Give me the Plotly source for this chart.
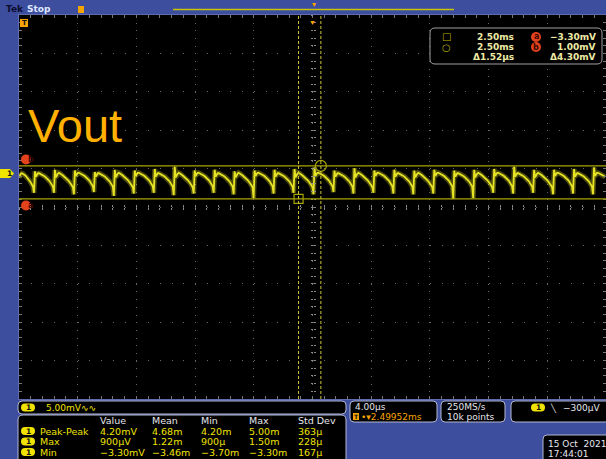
import plotly.graph_objects as go

# ---------------- canvas / plot geometry ----------------
W, H = 606, 459
ML, MR, MT, MB = 19, 0, 15, 60
PW, PH = W - ML - MR, H - MT - MB

# ---------------- scope settings ----------------
time_per_div_us = 4.0
mv_per_div = 5.0
divs_x = 10
divs_y = 10
ch1_position_div = 0.87          # ground marker above screen centre

cursor_time_us = [-0.95, 0.57]   # square cursor, circle cursor
cursor_level_mv = [-3.30, 1.00]  # cursor a, cursor b

# Channel 1 ripple, one value per screen column (mV)
ripple_mv = [
    -0.5, -0.2, 0.0, 0.05, 0.0, -0.1, -0.2, -0.35, -0.5, -0.65, -0.8, -1.0, -1.2, -1.45, -1.7, -2.5,
    0.3, -0.4, -0.1, 0.05, 0.05, 0.0, -0.05, -0.1, -0.2, -0.3, -0.4, -0.5, -0.6, -0.75, -0.9, -1.05, -1.25, -1.45, -1.7, -2.5,
    0.5, -0.5, -0.2, 0.0, 0.1, 0.05, -0.05, -0.15, -0.25, -0.35, -0.45, -0.55, -0.7, -0.85, -1.0, -1.15, -1.35, -1.55, -1.8, -2.7,
    0.4, -0.3, -0.1, 0.1, 0.1, 0.05, 0.0, -0.1, -0.15, -0.25, -0.35, -0.45, -0.55, -0.7, -0.85, -1.0, -1.2, -1.4, -1.65, -2.4,
    0.2, -0.4, -0.1, 0.05, 0.05, 0.0, -0.05, -0.1, -0.2, -0.3, -0.4, -0.5, -0.6, -0.75, -0.9, -1.05, -1.25, -1.45, -1.7, -2.9,
    0.5, -0.5, -0.2, 0.0, 0.1, 0.05, -0.05, -0.15, -0.25, -0.35, -0.45, -0.55, -0.7, -0.85, -1.0, -1.15, -1.35, -1.55, -1.8, -2.6,
    0.4, -0.3, -0.1, 0.1, 0.1, 0.05, 0.0, -0.1, -0.15, -0.25, -0.35, -0.45, -0.55, -0.7, -0.85, -1.0, -1.2, -1.4, -1.65, -2.5,
    0.6, -0.4, -0.1, 0.05, 0.05, 0.0, -0.05, -0.1, -0.2, -0.3, -0.4, -0.5, -0.6, -0.75, -0.9, -1.05, -1.25, -1.45, -1.7, -2.8,
    0.9, -0.5, -0.2, 0.0, 0.1, 0.05, -0.05, -0.15, -0.25, -0.35, -0.45, -0.55, -0.7, -0.85, -1.0, -1.15, -1.35, -1.55, -1.8, -2.6,
    0.4, -0.3, -0.1, 0.1, 0.1, 0.05, 0.0, -0.1, -0.15, -0.25, -0.35, -0.45, -0.55, -0.7, -0.85, -1.0, -1.2, -1.4, -1.65, -2.5,
    0.5, -0.4, -0.1, 0.05, 0.05, 0.0, -0.05, -0.1, -0.2, -0.3, -0.4, -0.5, -0.6, -0.75, -0.9, -1.05, -1.25, -1.45, -1.7, -2.7,
    0.3, -0.5, -0.2, 0.0, 0.1, 0.05, -0.05, -0.15, -0.25, -0.35, -0.45, -0.55, -0.7, -0.85, -1.0, -1.15, -1.35, -1.55, -1.8, -3.2,
    0.4, -0.3, -0.1, 0.1, 0.1, 0.05, 0.0, -0.1, -0.15, -0.25, -0.35, -0.45, -0.55, -0.7, -0.85, -1.0, -1.2, -1.4, -1.65, -2.6,
    0.5, -0.4, -0.1, 0.05, 0.05, 0.0, -0.05, -0.1, -0.2, -0.3, -0.4, -0.5, -0.6, -0.75, -0.9, -1.05, -1.25, -1.45, -1.7, -2.5,
    0.6, -0.5, -0.2, 0.0, 0.1, 0.05, -0.05, -0.15, -0.25, -0.35, -0.45, -0.55, -0.7, -0.85, -1.0, -1.15, -1.35, -1.55, -1.8, -2.7,
    0.8, -0.3, -0.1, 0.1, 0.1, 0.05, 0.0, -0.1, -0.15, -0.25, -0.35, -0.45, -0.55, -0.7, -0.85, -1.0, -1.2, -1.4, -1.65, -2.4,
    0.4, -0.4, -0.1, 0.05, 0.05, 0.0, -0.05, -0.1, -0.2, -0.3, -0.4, -0.5, -0.6, -0.75, -0.9, -1.05, -1.25, -1.45, -1.7, -2.6,
    0.7, -0.5, -0.2, 0.0, 0.1, 0.05, -0.05, -0.15, -0.25, -0.35, -0.45, -0.55, -0.7, -0.85, -1.0, -1.15, -1.35, -1.55, -1.8, -2.5,
    0.4, -0.3, -0.1, 0.1, 0.1, 0.05, 0.0, -0.1, -0.15, -0.25, -0.35, -0.45, -0.55, -0.7, -0.85, -1.0, -1.2, -1.4, -1.65, -2.6,
    0.5, -0.4, -0.1, 0.05, 0.05, 0.0, -0.05, -0.1, -0.2, -0.3, -0.4, -0.5, -0.6, -0.75, -0.9, -1.05, -1.25, -1.45, -1.7, -2.7,
    0.4, -0.5, -0.2, 0.0, 0.1, 0.05, -0.05, -0.15, -0.25, -0.35, -0.45, -0.55, -0.7, -0.85, -1.0, -1.15, -1.35, -1.55, -1.8, -2.6,
    0.5, -0.3, -0.1, 0.1, 0.1, 0.05, 0.0, -0.1, -0.15, -0.25, -0.35, -0.45, -0.55, -0.7, -0.85, -1.0, -1.2, -1.4, -1.65, -3.3,
    0.4, -0.4, -0.1, 0.05, 0.05, 0.0, -0.05, -0.1, -0.2, -0.3, -0.4, -0.5, -0.6, -0.75, -0.9, -1.05, -1.25, -1.45, -1.7, -3.2,
    0.5, -0.5, -0.2, 0.0, 0.1, 0.05, -0.05, -0.15, -0.25, -0.35, -0.45, -0.55, -0.7, -0.85, -1.0, -1.15, -1.35, -1.55, -1.8, -2.5,
    0.6, -0.3, -0.1, 0.1, 0.1, 0.05, 0.0, -0.1, -0.15, -0.25, -0.35, -0.45, -0.55, -0.7, -0.85, -1.0, -1.2, -1.4, -1.65, -2.6,
    0.9, -0.4, -0.1, 0.05, 0.05, 0.0, -0.05, -0.1, -0.2, -0.3, -0.4, -0.5, -0.6, -0.75, -0.9, -1.05, -1.25, -1.45, -1.7, -2.5,
    0.5, -0.5, -0.2, 0.0, 0.1, 0.05, -0.05, -0.15, -0.25, -0.35, -0.45, -0.55, -0.7, -0.85, -1.0, -1.15, -1.35, -1.55, -1.8, -2.7,
    0.5, -0.3, -0.1, 0.1, 0.1, 0.05, 0.0, -0.1, -0.15, -0.25, -0.35, -0.45, -0.55, -0.7, -0.85, -1.0, -1.2, -1.4, -1.65, -2.6,
    0.6, -0.4, -0.1, 0.05, 0.05, 0.0, -0.05, -0.1, -0.2, -0.3, -0.4, -0.5, -0.6, -0.75, -0.9, -1.05, -1.25, -1.45, -1.7, -2.7,
    0.8, -0.3, -0.1, 0.1, 0.1, 0.05, 0.0, -0.1, -0.15, -0.25, -0.35, -0.45,
]

# ---------------- on-screen readouts ----------------
meas_rows = ["Peak-Peak", "Max", "Min"]
meas_cols = ["Value", "Mean", "Min", "Max", "Std Dev"]
meas_vals = [
    ["4.20mV", "4.68m", "4.20m", "5.00m", "363µ"],
    ["900µV", "1.22m", "900µ", "1.50m", "228µ"],
    ["−3.30mV", "−3.46m", "−3.70m", "−3.30m", "167µ"],
]
cursor_time_txt = ["2.50ms", "2.50ms"]
cursor_level_txt = ["−3.30mV", "1.00mV"]
cursor_delta_txt = ["Δ1.52µs", "Δ4.30mV"]
ch1_scale_txt = "5.00mV∿∿"
horiz_txt = ["4.00µs", "2.49952ms"]
acq_txt = ["250MS/s", "10k points"]
trig_txt = "−300µV"
date_txt = ["15 Oct  2021", "17:44:01"]

# ---------------- colours ----------------
BLUE = "#3d4e9e"
TRACE = "#e6e424"
CURS_H = "#a9a500"
CURS_V = "#cfc83a"
YEL = "#f0e300"
CREAM = "#eeeaa6"
WHITE = "#e6e6ee"
ORANGE = "#f7a400"
RED = "#e2421c"
BOXLINE = "#b3b7d2"
GRID = "#666666"
FONT = "DejaVu Sans"

half_t = time_per_div_us * divs_x / 2
y_center = -ch1_position_div * mv_per_div
y_half = mv_per_div * divs_y / 2
dx = 2 * half_t / len(ripple_mv)


def X(px):
    return (px - ML) / PW


def Y(py):
    return (H - MB - py) / PH


def rrect(x0, y0, x1, y1, r):
    return (f"M{X(x0 + r)},{Y(y0)} L{X(x1 - r)},{Y(y0)} Q{X(x1)},{Y(y0)} {X(x1)},{Y(y0 + r)} "
            f"L{X(x1)},{Y(y1 - r)} Q{X(x1)},{Y(y1)} {X(x1 - r)},{Y(y1)} L{X(x0 + r)},{Y(y1)} "
            f"Q{X(x0)},{Y(y1)} {X(x0)},{Y(y1 - r)} L{X(x0)},{Y(y0 + r)} Q{X(x0)},{Y(y0)} {X(x0 + r)},{Y(y0)} Z")


fig = go.Figure()

# trace glow + core
fig.add_trace(go.Scatter(y=ripple_mv, x0=-half_t, dx=dx, mode="lines",
                         line=dict(color="rgba(230,228,36,0.33)", width=5), hoverinfo="skip"))
fig.add_trace(go.Scatter(y=ripple_mv, x0=-half_t, dx=dx, mode="lines",
                         line=dict(color=TRACE, width=1.8), hoverinfo="skip"))

# cursors
for lv in cursor_level_mv:
    fig.add_hline(y=lv, line=dict(color=CURS_H, width=1.3))
for t in cursor_time_us:
    fig.add_vline(x=t, line=dict(color=CURS_V, width=1, dash="3px,2px"))
fig.add_trace(go.Scatter(x=[cursor_time_us[0]], y=[cursor_level_mv[0]], mode="markers",
                         marker=dict(symbol="square-open", size=9, color=CURS_H, line=dict(width=1.2)),
                         hoverinfo="skip"))
fig.add_trace(go.Scatter(x=[cursor_time_us[1]], y=[cursor_level_mv[1]], mode="markers",
                         marker=dict(symbol="circle-open", size=11, color=CURS_H, line=dict(width=1.2)),
                         hoverinfo="skip"))

# empty traces to host the centre crosshair tick axes
fig.add_trace(go.Scatter(x=[], y=[], xaxis="x2", yaxis="y2", hoverinfo="skip"))
fig.add_trace(go.Scatter(x=[], y=[], xaxis="x3", yaxis="y3", hoverinfo="skip"))

minor_x = time_per_div_us / 5
minor_y = mv_per_div / 5
ax_common = dict(showticklabels=False, zeroline=False, fixedrange=True)

fig.update_layout(
    width=W, height=H, margin=dict(l=ML, r=MR, t=MT, b=MB),
    paper_bgcolor=BLUE, plot_bgcolor="black", showlegend=False, hovermode=False,
    xaxis=dict(range=[-half_t, half_t], tick0=0, dtick=time_per_div_us, showgrid=True,
               gridcolor=GRID, griddash="1px,6.68px", gridwidth=1,
               ticks="inside", ticklen=3, tickcolor="#777", mirror="allticks",
               showline=True, linecolor="#5f6db0", linewidth=1,
               minor=dict(dtick=minor_x, tick0=0, ticks="inside", ticklen=3, tickcolor="#777", showgrid=False),
               **ax_common),
    yaxis=dict(range=[y_center - y_half, y_center + y_half], tick0=y_center, dtick=mv_per_div,
               showgrid=True, gridcolor=GRID, griddash="1px,10.74px", gridwidth=1,
               ticks="inside", ticklen=3, tickcolor="#777", mirror="allticks",
               showline=True, linecolor="#5f6db0", linewidth=1,
               minor=dict(dtick=minor_y, tick0=y_center, ticks="inside", ticklen=3, tickcolor="#777", showgrid=False),
               **ax_common),
    xaxis2=dict(overlaying="x", anchor="free", position=0.5, range=[-half_t, half_t], tick0=0,
                dtick=minor_x, ticks="outside", ticklen=2, tickcolor="#8a8a8a", showgrid=False,
                showline=False, **ax_common),
    xaxis3=dict(overlaying="x", anchor="free", position=0.5, range=[-half_t, half_t], tick0=0,
                dtick=minor_x, ticks="inside", ticklen=2, tickcolor="#8a8a8a", showgrid=False,
                showline=False, **ax_common),
    yaxis2=dict(overlaying="y", anchor="free", position=0.5, range=[y_center - y_half, y_center + y_half],
                tick0=y_center, dtick=minor_y, ticks="outside", ticklen=2, tickcolor="#8a8a8a",
                showgrid=False, showline=False, **ax_common),
    yaxis3=dict(overlaying="y", anchor="free", position=0.5, range=[y_center - y_half, y_center + y_half],
                tick0=y_center, dtick=minor_y, ticks="inside", ticklen=2, tickcolor="#8a8a8a",
                showgrid=False, showline=False, **ax_common),
)

shapes = []
ann = []


def txt(x, y, s, color=WHITE, size=9.5, anchor="left", family=FONT, bold=False, **kw):
    d = dict(x=X(x), y=Y(y), xref="paper", yref="paper", text=(f"<b>{s}</b>" if bold else s),
             showarrow=False, xanchor=anchor, yanchor="middle", borderpad=0,
             font=dict(family=family, size=size, color=color))
    d.update(kw)
    ann.append(d)


def rect(x0, y0, x1, y1, fill, line=None, lw=0):
    shapes.append(dict(type="rect", xref="paper", yref="paper", x0=X(x0), x1=X(x1), y0=Y(y1), y1=Y(y0),
                       fillcolor=fill, line=dict(color=line or fill, width=lw), layer="above"))


def rbox(x0, y0, x1, y1, r, fill="black", line=BOXLINE, lw=1):
    shapes.append(dict(type="path", xref="paper", yref="paper", path=rrect(x0, y0, x1, y1, r),
                       fillcolor=fill, line=dict(color=line, width=lw), layer="above"))


def pill(xc, yc):
    rbox(xc - 7, yc - 4, xc + 7, yc + 4, 4, fill=YEL, line=YEL, lw=0)
    txt(xc, yc, "1", color="#111", size=7.5, anchor="center", bold=True)


# white margins of the screenshot
rect(0, 0, W, 3, "white")
rect(0, 0, 5, H, "white")

# top status bar
txt(5, 9, "Tek", color="#0c0c30", size=9, bold=True)
txt(26, 9, "Stop", color="#dfe6ff", size=9, bold=True)
rect(78, 5, 548, 14, "black")
shapes.append(dict(type="rect", xref="paper", yref="paper", x0=X(172), x1=X(455), y0=Y(14), y1=Y(5),
                   line=dict(color="#9a9ab0", width=1), layer="above"))
shapes.append(dict(type="line", xref="paper", yref="paper", x0=X(173), x1=X(454), y0=Y(9.5), y1=Y(9.5),
                   line=dict(color="#c8c400", width=1.5), layer="above"))
rect(78, 6, 84, 13, ORANGE)
txt(313.5, 4, "▾", color=ORANGE, size=8, anchor="center")

# trigger position marker on grid top and trigger marker at left
ann.append(dict(x=0, xref="x", y=1, yref="paper", yanchor="top", text="▼", showarrow=False,
                font=dict(size=7, color=ORANGE), yshift=-1))
rect(20, 19, 28, 27, ORANGE)
txt(24, 23, "T", color="#111", size=7, anchor="center", bold=True)

# channel 1 ground marker
shapes.append(dict(type="path", xref="paper", yref="y", ysizemode="pixel", yanchor=0,
                   path=f"M{X(0)},4.5 L{X(10)},4.5 L{X(14)},0 L{X(10)},-4.5 L{X(0)},-4.5 Z",
                   fillcolor=YEL, line=dict(width=0), layer="above"))
ann.append(dict(x=X(5), xref="paper", y=0, yref="y", text="<b>1</b>", showarrow=False,
                font=dict(family=FONT, size=7.5, color="#111")))

# cursor a / b markers
for lv, lab, sh in [(cursor_level_mv[1], "b", 6.5), (cursor_level_mv[0], "a", -6.5)]:
    shapes.append(dict(type="circle", xref="paper", yref="y", ysizemode="pixel", yanchor=lv,
                       x0=X(21), x1=X(31), y0=sh - 5, y1=sh + 5, fillcolor=RED, line=dict(width=0),
                       layer="above"))
    ann.append(dict(x=X(26), xref="paper", y=lv, yref="y", yshift=sh, text=f"<b>{lab}</b>",
                    showarrow=False, font=dict(family=FONT, size=8, color="#3a0800")))

# Vout label
txt(27, 125, "Vout", color="#ffb000", size=47, family="Liberation Sans")

# cursor readout box
rbox(430, 28, 602, 64, 5, fill="black", line="#a0a0a0")
for i, yy in enumerate([37, 47]):
    txt(446, yy, "□" if i == 0 else "○", color="#b5b000", size=10, anchor="center")
    txt(515, yy, cursor_time_txt[i], color=CREAM, size=9, anchor="right", bold=True)
    shapes.append(dict(type="circle", xref="paper", yref="paper", x0=X(531), x1=X(541),
                       y0=Y(yy + 5), y1=Y(yy - 5), fillcolor=RED, line=dict(width=0), layer="above"))
    txt(536, yy, "a" if i == 0 else "b", color="#3a0800", size=8, anchor="center", bold=True)
    txt(597, yy, cursor_level_txt[i], color=CREAM, size=9, anchor="right", bold=True)
txt(515, 57, cursor_delta_txt[0], color=CREAM, size=9, anchor="right", bold=True)
txt(597, 57, cursor_delta_txt[1], color=CREAM, size=9, anchor="right", bold=True)

# bottom: channel scale
rbox(18, 401, 346, 414, 4)
pill(28, 407.5)
txt(45, 407.5, ch1_scale_txt, color=YEL, size=9)

# bottom: measurement table
rbox(18, 415, 346, 475, 5)
col_x = [99, 151, 200, 248, 297]
for cx, head in zip(col_x, meas_cols):
    txt(cx, 420, head, color=WHITE, size=9.5)
for ri, (name, vals) in enumerate(zip(meas_rows, meas_vals)):
    yy = 431 + ri * 10.5
    pill(28, yy)
    txt(39, yy, name, color=YEL, size=9.5)
    for cx, v in zip(col_x, vals):
        txt(cx, yy, v, color=YEL, size=9.5)

# bottom: horizontal settings
rbox(350, 401, 437, 422, 4)
txt(354, 407, horiz_txt[0], color=WHITE, size=9)
rect(353, 413, 359, 420, ORANGE)
txt(356, 416.5, "T", color="#111", size=6, anchor="center", bold=True)
txt(360, 417, "•▾" + horiz_txt[1], color=ORANGE, size=9)

# bottom: acquisition
rbox(441, 401, 505, 422, 4)
txt(446, 407, acq_txt[0], color=WHITE, size=9)
txt(446, 417, acq_txt[1], color=WHITE, size=9)

# bottom: trigger
rbox(511, 401, 640, 422, 4)
pill(538, 407.5)
txt(553, 407.5, "╲", color=WHITE, size=8, anchor="center")
txt(562, 407.5, trig_txt, color=WHITE, size=9)

# bottom: date
rbox(543, 435, 640, 480, 4)
txt(547, 444, date_txt[0], color=WHITE, size=9)
txt(547, 454, date_txt[1], color=WHITE, size=9)

fig.update_layout(shapes=shapes, annotations=ann)
fig.write_html("out.html", config={"displayModeBar": False},
               post_script="document.body.style.margin='0';document.body.style.overflow='hidden';")
